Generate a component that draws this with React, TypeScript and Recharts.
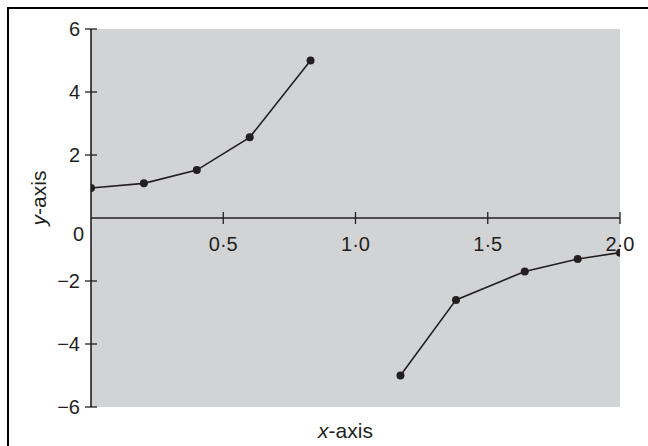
import React from 'react';
import {
  LineChart, Line, XAxis, YAxis, CartesianGrid, ReferenceLine, ReferenceDot, Label,
} from 'recharts';

const leftX = [0, 0.2, 0.4, 0.6, 0.83];
const leftY = [0.95, 1.1, 1.52, 2.56, 5.0];
const rightX = [1.17, 1.38, 1.64, 1.84, 2.0];
const rightY = [-5.0, -2.6, -1.7, -1.3, -1.1];
const yTicks = [-6, -4, -2, 0, 2, 4, 6];
const xTicks = [0.5, 1.0, 1.5, 2.0];

const leftData = leftX.map((x, i) => ({ x, y: leftY[i] }));
const rightData = rightX.map((x, i) => ({ x, y: rightY[i] }));

const INK = '#231f20';
const FONT = '"Liberation Sans", Arial, sans-serif';

const fmtX = (v: number) => v.toFixed(1).replace('.', '\u00b7');
const fmtY = (v: number) => (v < 0 ? '\u2212' + Math.abs(v) : String(v));

// y ticks cross the axis line; the 0 label sits below the x axis
const YTick = (props: any) => {
  const { x, y, payload } = props;
  if (payload.value === 0) {
    return (
      <text x={x - 7} y={y + 16} textAnchor="end" dominantBaseline="central" fontSize={20} fill={INK} fontFamily={FONT}>
        0
      </text>
    );
  }
  return (
    <g>
      <line x1={x - 6} y1={y} x2={x + 6} y2={y} stroke={INK} strokeWidth={1.3} />
      <text x={x - 11} y={y} textAnchor="end" dominantBaseline="central" fontSize={20} fill={INK} fontFamily={FONT}>
        {fmtY(payload.value)}
      </text>
    </g>
  );
};

const XTickMark = (v: number) => (props: any) => {
  const { cx, cy } = props;
  return (
    <g>
      <line x1={cx} y1={cy - 6} x2={cx} y2={cy + 6} stroke={INK} strokeWidth={1.3} />
      <text x={cx} y={cy + 26} textAnchor="middle" dominantBaseline="central" fontSize={20} fill={INK} fontFamily={FONT}>
        {fmtX(v)}
      </text>
    </g>
  );
};

const XLabel = (props: any) => {
  const { x, y, width } = props.viewBox;
  return (
    <text x={x + width / 2 - 10} y={y + 23} textAnchor="middle" dominantBaseline="central" fontSize={21} fill={INK} fontFamily={FONT}>
      <tspan fontStyle="italic">x</tspan>-axis
    </text>
  );
};

const YLabel = (props: any) => {
  const { x, y, height } = props.viewBox;
  const cx = x + 38;
  const cy = y + height / 2 - 20;
  return (
    <text x={cx} y={cy} transform={`rotate(-90, ${cx}, ${cy})`} textAnchor="middle" dominantBaseline="central" fontSize={21} fill={INK} fontFamily={FONT}>
      <tspan fontStyle="italic">y</tspan>-axis
    </text>
  );
};

export default function App() {
  return (
    <div style={{ position: 'absolute', left: 0, top: 0, width: 648, height: 446, background: '#fff' }}>
      <div style={{ position: 'absolute', left: 7, top: 7, right: 0, bottom: 0, borderTop: `2px solid #000`, borderLeft: `2px solid #000` }} />
      <div style={{ position: 'absolute', left: 0, top: 0 }}>
        <LineChart width={648} height={446} margin={{ top: 29, right: 28, left: 0, bottom: 0 }}>
          <CartesianGrid fill="#d1d3d4" stroke="none" horizontal={false} vertical={false} />
          <XAxis
            type="number"
            dataKey="x"
            domain={[0, 2]}
            ticks={xTicks}
            allowDataOverflow
            height={39}
            axisLine={false}
            tickLine={false}
            tick={false}
          >
            <Label content={XLabel} />
          </XAxis>
          <YAxis
            type="number"
            domain={[-6, 6]}
            ticks={yTicks}
            width={91}
            axisLine={{ stroke: INK, strokeWidth: 1.6 }}
            tickLine={false}
            tickSize={0}
            tickMargin={0}
            tick={YTick}
            interval={0}
          >
            <Label content={YLabel} />
          </YAxis>
          <ReferenceLine y={0} stroke={INK} strokeWidth={1.5} />
          {xTicks.map((v) => (
            <ReferenceDot key={v} x={v} y={0} r={0} shape={XTickMark(v)} />
          ))}
          <Line data={leftData} dataKey="y" stroke={INK} strokeWidth={1.6} dot={{ r: 4, fill: INK, stroke: INK, strokeWidth: 0 }} isAnimationActive={false} />
          <Line data={rightData} dataKey="y" stroke={INK} strokeWidth={1.6} dot={{ r: 4, fill: INK, stroke: INK, strokeWidth: 0 }} isAnimationActive={false} />
        </LineChart>
      </div>
    </div>
  );
}
